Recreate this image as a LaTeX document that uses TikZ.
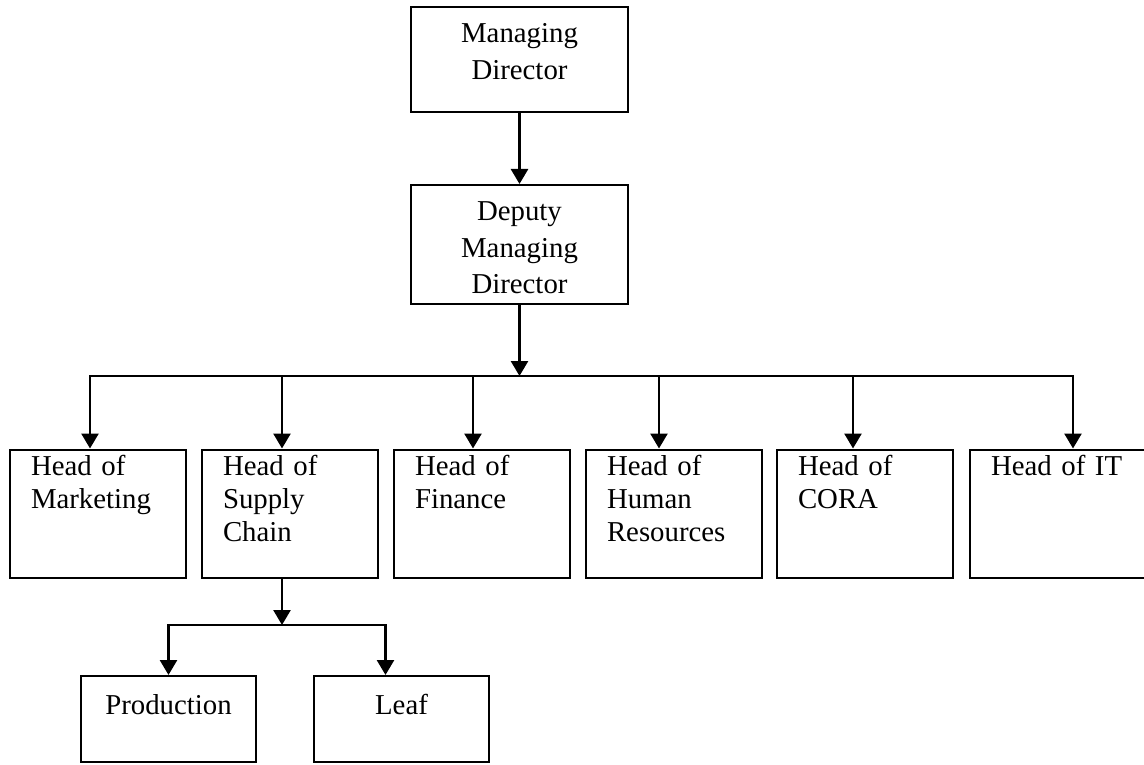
\documentclass[tikz,border=0pt]{standalone}
\usepackage{fontspec}
\setmainfont{Liberation Serif}
\usetikzlibrary{arrows.meta}

\tikzset{
  box/.style={draw, line width=2pt, font=\fontsize{28.8}{33}\selectfont},
  topbox/.style={box, font=\fontsize{28.8}{36.5}\selectfont, text width=181pt, align=center,
    inner xsep=18pt, inner ysep=6pt, text height=30pt},
  head/.style={box, text width=134pt, align=left, inner xsep=21pt, inner ysep=6pt,
    text height=20pt, text depth=96pt},
  unit/.style={box, text width=139pt, align=center, inner xsep=18pt, inner ysep=18pt,
    text height=20pt, text depth=30pt},
  arr/.style={line width=2.6pt, -{Triangle[length=15pt,width=17pt]}}
}

\begin{document}
\begin{tikzpicture}[x=1pt, y=-1pt]
    \useasboundingbox (0,0) rectangle (1144,765);
    \def \rowy{513.5}

    % Draw the directors
    \node[topbox, text depth=63pt] (md) at (519.5,59.5) {Managing\\Director};
    \node[topbox, text depth=77pt] (dmd) at (519.5,244.5) {Deputy\\Managing\\Director};

    % Draw the heads
    \node[head] (mkt) at (98,\rowy) {Head of\\Marketing};
    \node[head] (sc) at (290,\rowy) {Head of\\Supply\\Chain};
    \node[head] (fin) at (482,\rowy) {Head of\\Finance};
    \node[head] (hr) at (674,\rowy) {Head of\\Human\\Resources};
    \node[head] (cora) at (865,\rowy) {Head of\\CORA};
    \node[head] (it) at (1058,\rowy) {Head of IT};

    % Draw the units under supply chain
    \node[unit] (prod) at (168.5,719) {Production};
    \node[unit] (leaf) at (401.5,719) {Leaf};

    % Draw the arrows
    \coordinate (bus) at (dmd.south |- 0,376);
    \coordinate (sub) at (282,625);
    \draw[arr] (md) -- (dmd);
    \draw[arr] (dmd) -- (bus);
    \draw[arr] (bus) -| ([xshift=-8pt]mkt.north);
    \draw[arr] (bus) -| ([xshift=-8pt]sc.north);
    \draw[arr] (bus) -| ([xshift=-9pt]fin.north);
    \draw[arr] (bus) -| ([xshift=-15pt]hr.north);
    \draw[arr] (bus) -| ([xshift=-12pt]cora.north);
    \draw[arr] (bus) -| ([xshift=15pt]it.north);
    \draw[arr] ([xshift=-8pt]sc.south) -- (sub);
    \draw[arr] (sub) -| (prod.north);
    \draw[arr] (sub) -| ([xshift=-16pt]leaf.north);
\end{tikzpicture}
\end{document}
